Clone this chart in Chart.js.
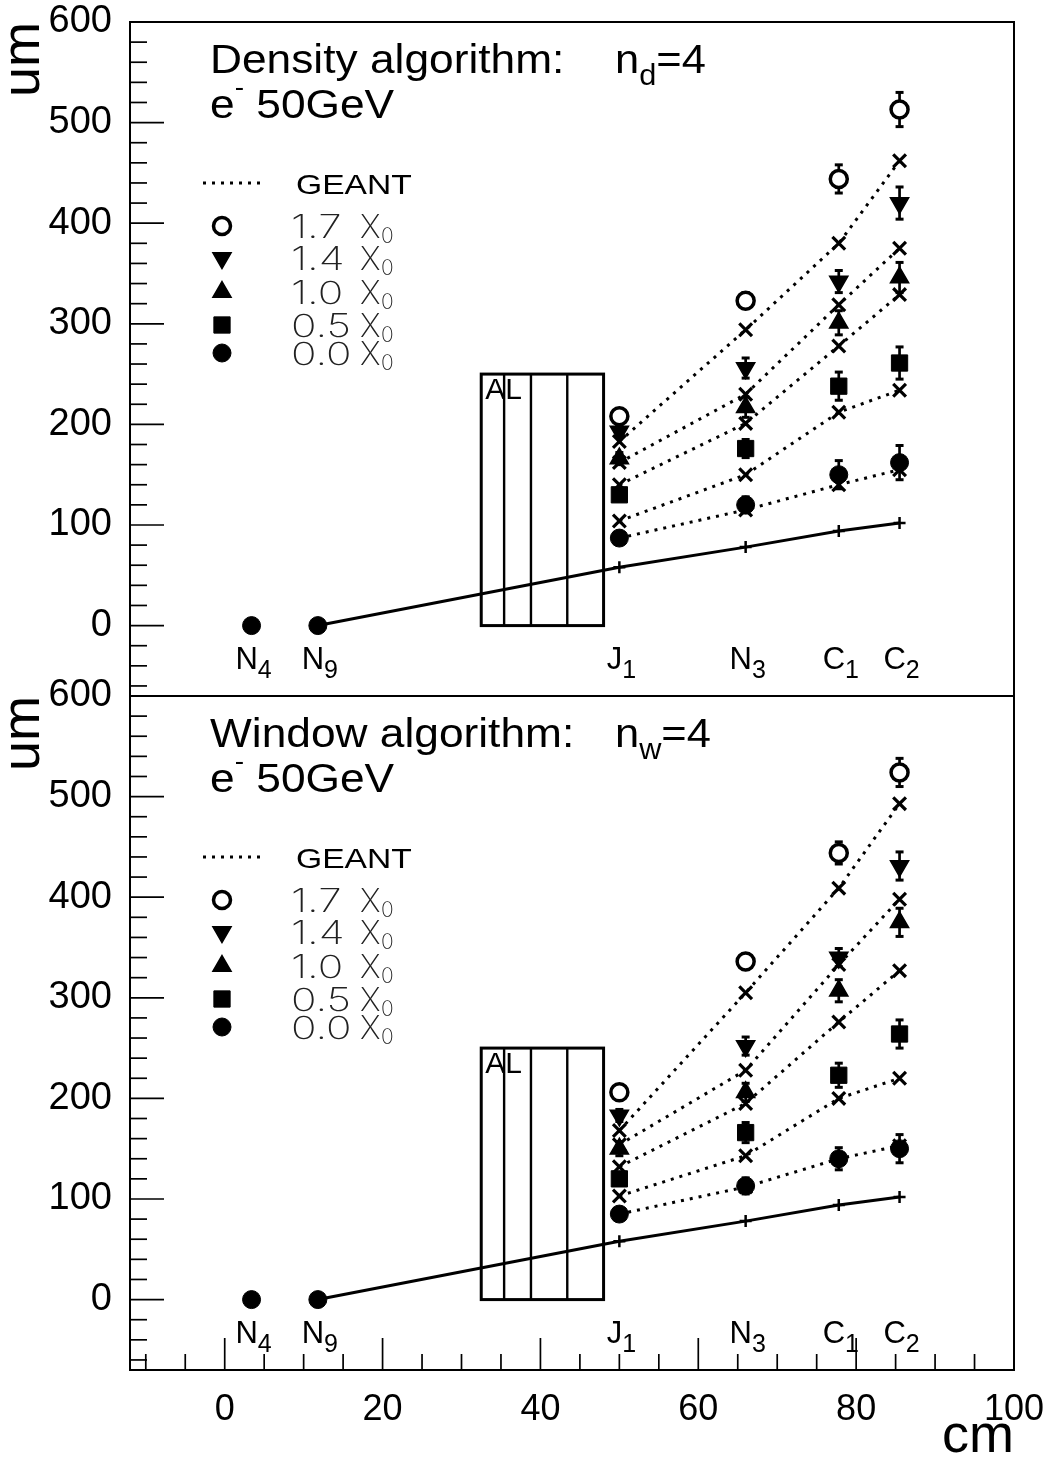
<!DOCTYPE html>
<html>
<head>
<meta charset="utf-8">
<title>Resolution vs position</title>
<script src="https://cdn.jsdelivr.net/npm/chart.js@4/dist/chart.umd.min.js"></script>
<style>
  body { margin: 0; background: #fff; overflow: hidden; }
  #wrap { width: 1051px; height: 1461px; }
</style>
</head>
<body>
<div id="wrap"><canvas id="resChart"></canvas></div>
<script>
// stations along the beam line (cm)
const stationNames = [['N', '4'], ['N', '9'], ['J', '1'], ['N', '3'], ['C', '1'], ['C', '2']];
const stationX = [3.4, 11.8, 50, 66, 77.8, 85.5];
// planes where the resolution is measured: J1, N3, C1, C2
const planeX = [50, 66, 77.8, 85.5];
const thickness = ['1.7', '1.4', '1.0', '0.5', '0.0'];

// density algorithm, n_d = 4 (um)
const dens17 = [208, 323, 444, 513];
const dens17Err = [6, 8, 14, 17];
const dens14 = [193, 256, 342, 420];
const dens14Err = [6, 10, 11, 16];
const dens10 = [166, 217, 301, 346];
const dens10Err = [6, 10, 12, 15];
const dens05 = [130, 176, 238, 261];
const dens05Err = [6, 9, 14, 16];
const dens00 = [87, 120, 150, 162];
const dens00Err = [5, 8, 14, 17];
const densGeant17 = [183, 294, 380, 462];
const densGeant14 = [162, 230, 319, 375];
const densGeant10 = [140, 201, 278, 329];
const densGeant05 = [104, 150, 212, 234];
const densGeant00 = [87, 115, 140, 155];

// window algorithm, n_w = 4 (um)
const win17 = [206, 336, 444, 524];
const win17Err = [6, 8, 11, 14];
const win14 = [183, 252, 340, 431];
const win14Err = [6, 9, 9, 14];
const win10 = [150, 206, 307, 375];
const win10Err = [7, 9, 11, 14];
const win05 = [120, 166, 223, 264];
const win05Err = [6, 10, 12, 14];
const win00 = [85, 113, 140, 150];
const win00Err = [5, 8, 11, 14];
const winGeant17 = [168, 305, 409, 493];
const winGeant14 = [154, 228, 333, 398];
const winGeant10 = [132, 195, 276, 327];
const winGeant05 = [103, 143, 200, 220];
const winGeant00 = [85, 112, 140, 153];

// extrapolation error with no material, starting at N9
const extrapX = [11.8, 50, 66, 77.8, 85.5];
const extrapRes = [0, 58, 78, 94, 102];

// reference planes N4, N9
const fixedX = [3.4, 11.8];
const fixedRes = [0, 0];

// aluminium block: layer boundaries (cm) and height (um scale)
const alLayers = [32.5, 35.4, 38.8, 43.4, 48];
const alHeight = 250;

// axis ticks
const xTickValues = [];
for (let v = -10; v <= 100; v += 5) xTickValues.push(v);
const yTickValues = [];
for (let v = -60; v <= 600; v += 20) yTickValues.push(v);

const FONT = "'Liberation Sans', Arial, Helvetica, sans-serif";
const THIN = "Inter, Lato, 'Liberation Sans', sans-serif";

const markerStyles = [
  { pointStyle: 'circle', rotation: 0, radius: 8.5, fill: '#fff', border: 3.5 },
  { pointStyle: 'triangle', rotation: 180, radius: 10.5, fill: '#000', border: 1.5 },
  { pointStyle: 'triangle', rotation: 0, radius: 10.5, fill: '#000', border: 1.5 },
  { pointStyle: 'rect', rotation: 0, radius: 11.5, fill: '#000', border: 1 },
  { pointStyle: 'circle', rotation: 0, radius: 9, fill: '#000', border: 1 }
];

const panels = [
  { id: 'yTop', title: ['Density algorithm:', 'd'],
    meas: [dens17, dens14, dens10, dens05, dens00],
    errs: [dens17Err, dens14Err, dens10Err, dens05Err, dens00Err],
    geant: [densGeant17, densGeant14, densGeant10, densGeant05, densGeant00] },
  { id: 'yBot', title: ['Window algorithm:', 'w'],
    meas: [win17, win14, win10, win05, win00],
    errs: [win17Err, win14Err, win10Err, win05Err, win00Err],
    geant: [winGeant17, winGeant14, winGeant10, winGeant05, winGeant00] }
];

function toPoints(xs, ys) {
  return xs.map((x, i) => ({ x: x, y: ys[i] }));
}

function panelSets(p) {
  const sets = [];
  p.meas.forEach((vals, i) => {
    const m = markerStyles[i];
    sets.push({
      label: thickness[i] + ' X0', yAxisID: p.id, data: toPoints(planeX, vals), errors: p.errs[i],
      showLine: false, pointStyle: m.pointStyle, pointRotation: m.rotation, pointRadius: m.radius,
      pointBackgroundColor: m.fill, pointBorderColor: '#000', pointBorderWidth: m.border, order: 0
    });
  });
  p.geant.forEach(vals => sets.push({
    label: 'GEANT', yAxisID: p.id, data: toPoints(planeX, vals), showLine: true,
    borderColor: '#000', borderWidth: 3, borderDash: [3, 6], borderCapStyle: 'butt',
    pointStyle: 'crossRot', pointRadius: 9, pointBorderColor: '#000', pointBorderWidth: 3.2, order: 1
  }));
  sets.push({
    label: 'extrapolation', yAxisID: p.id, data: toPoints(extrapX, extrapRes), showLine: true,
    borderColor: '#000', borderWidth: 3, pointStyle: 'cross',
    pointRadius: extrapX.map((x, i) => i === 0 ? 0 : 6), pointBorderColor: '#000', pointBorderWidth: 2.5, order: 2
  });
  sets.push({
    label: 'reference', yAxisID: p.id, data: toPoints(fixedX, fixedRes), showLine: false,
    pointStyle: 'circle', pointRadius: 9, pointBackgroundColor: '#000', pointBorderColor: '#000',
    pointBorderWidth: 1, order: 0
  });
  return sets;
}

// text made of pieces: {text, size, dy, family, weight}; sx stretches horizontally
function pieceWidth(ctx, parts, sx) {
  let w = 0;
  for (const p of parts) {
    ctx.font = (p.weight || 'normal') + ' ' + p.size + 'px ' + (p.family || FONT);
    w += ctx.measureText(p.text).width;
  }
  return w * sx;
}
function drawPieces(ctx, x, y, parts, sx) {
  ctx.save();
  ctx.translate(x, y);
  ctx.scale(sx, 1);
  let cx = 0;
  for (const p of parts) {
    ctx.font = (p.weight || 'normal') + ' ' + p.size + 'px ' + (p.family || FONT);
    ctx.fillStyle = p.color || '#000';
    ctx.fillText(p.text, cx, p.dy || 0);
    cx += ctx.measureText(p.text).width;
  }
  ctx.restore();
}

function line(ctx, x1, y1, x2, y2) {
  ctx.beginPath();
  ctx.moveTo(x1, y1);
  ctx.lineTo(x2, y2);
  ctx.stroke();
}

const errorBars = {
  id: 'errorBars',
  beforeDatasetsDraw(chart) {
    const ctx = chart.ctx;
    ctx.save();
    ctx.strokeStyle = '#000';
    chart.data.datasets.forEach((ds, i) => {
      if (!ds.errors) return;
      const ys = chart.scales[ds.yAxisID];
      chart.getDatasetMeta(i).data.forEach((pt, j) => {
        const v = ds.data[j].y, e = ds.errors[j];
        const hi = ys.getPixelForValue(v + e), lo = ys.getPixelForValue(v - e);
        ctx.lineWidth = 2.7;
        line(ctx, pt.x, hi, pt.x, lo);
        ctx.lineWidth = 3;
        line(ctx, pt.x - 4, hi, pt.x + 4, hi);
        line(ctx, pt.x - 4, lo, pt.x + 4, lo);
      });
    });
    ctx.restore();
  }
};

const alBlock = {
  id: 'alBlock',
  beforeDatasetsDraw(chart) {
    const ctx = chart.ctx, xs = chart.scales.x;
    ctx.save();
    ctx.strokeStyle = '#000';
    panels.forEach(p => {
      const ys = chart.scales[p.id];
      const x0 = xs.getPixelForValue(alLayers[0]);
      const x1 = xs.getPixelForValue(alLayers[alLayers.length - 1]);
      const yT = ys.getPixelForValue(alHeight), yB = ys.getPixelForValue(0);
      ctx.lineWidth = 2.4;
      alLayers.slice(1, -1).forEach(v => {
        const px = xs.getPixelForValue(v);
        line(ctx, px, yT, px, yB);
      });
      ctx.lineWidth = 3;
      ctx.strokeRect(x0, yT, x1 - x0, yB - yT);
      ctx.fillStyle = '#000';
      ctx.font = '30px ' + FONT;
      ctx.textBaseline = 'top';
      ctx.fillText('AL', x0 + 4, yT + 2);
    });
    ctx.restore();
  }
};

const decorations = {
  id: 'decorations',
  afterDraw(chart) {
    const ctx = chart.ctx, xs = chart.scales.x;
    const { left, right, top, bottom } = chart.chartArea;
    ctx.save();
    ctx.strokeStyle = '#000';
    ctx.fillStyle = '#000';

    // frame and panel divider
    ctx.lineWidth = 2;
    ctx.strokeRect(left, top, right - left, bottom - top);
    line(ctx, left, chart.scales.yTop.bottom, right, chart.scales.yTop.bottom);

    // ticks pointing into the frame
    ctx.lineWidth = 1.7;
    xTickValues.forEach(v => {
      const px = xs.getPixelForValue(v);
      line(ctx, px, bottom, px, bottom - (v % 20 === 0 ? 32 : 16));
    });
    panels.forEach(p => {
      const ys = chart.scales[p.id];
      yTickValues.forEach(v => {
        const py = ys.getPixelForValue(v);
        line(ctx, left, py, left + (v % 100 === 0 ? 34 : 17), py);
      });
    });

    ctx.textBaseline = 'alphabetic';
    panels.forEach(p => {
      const ys = chart.scales[p.id];
      const y0 = ys.getPixelForValue(0);
      const pt = ys.top;

      // station names under the zero line
      stationNames.forEach((nm, i) => {
        const parts = [{ text: nm[0], size: 31 }, { text: nm[1], size: 25, dy: 9 }];
        const w = pieceWidth(ctx, parts, 1);
        drawPieces(ctx, xs.getPixelForValue(stationX[i]) - w / 2 + 2, y0 + 43, parts, 1);
      });

      // panel title
      drawPieces(ctx, left + 80, pt + 51, [{ text: p.title[0], size: 41 }], 1.08);
      drawPieces(ctx, left + 485, pt + 51, [
        { text: 'n', size: 41 }, { text: p.title[1], size: 29, dy: 12 }, { text: '=4', size: 41 }
      ], 1.06);
      drawPieces(ctx, left + 80, pt + 96, [
        { text: 'e', size: 41 }, { text: '-', size: 26, dy: -22 }, { text: ' 50GeV', size: 41 }
      ], 1.08);

      // legend
      const lx = left + 92;
      ctx.save();
      ctx.lineWidth = 3;
      ctx.setLineDash([3, 6]);
      line(ctx, left + 73, pt + 161, left + 135, pt + 161);
      ctx.restore();
      drawPieces(ctx, left + 166, pt + 172, [{ text: 'GEANT', size: 28 }], 1.2);
      const rows = [204, 236, 270, 303, 331];
      markerStyles.forEach((m, i) => {
        ctx.fillStyle = m.fill;
        ctx.strokeStyle = '#000';
        ctx.lineWidth = m.border;
        Chart.helpers.drawPoint(ctx, { pointStyle: m.pointStyle, rotation: m.rotation, radius: m.radius, borderWidth: m.border }, lx, pt + rows[i]);
        drawPieces(ctx, left + 161, pt + rows[i] + 12, [{ text: thickness[i], size: 32, family: THIN, weight: 200, color: '#222' }], 1.32);
        drawPieces(ctx, left + 230, pt + rows[i] + 12, [{ text: 'X', size: 32, family: THIN, weight: 200, color: '#222' }], 1);
        drawPieces(ctx, left + 251, pt + rows[i] + 17, [{ text: '0', size: 21, family: THIN, weight: 200, color: '#222' }], 1);
      });
    });
    ctx.restore();
  }
};

// keep the frame where it is: drop the padding the scales ask for around overflowing labels
function noPadding(s) {
  s.paddingTop = 0;
  s.paddingBottom = 0;
  s.paddingLeft = 0;
  s.paddingRight = 0;
}

function yAxis() {
  return {
    type: 'linear', position: 'left', stack: 'panels', stackWeight: 1, min: -70, max: 600,
    grid: { display: false, drawTicks: false }, border: { display: false },
    afterBuildTicks: s => { s.ticks = yTickValues.map(v => ({ value: v })); },
    afterFit: s => { s.width = 130; noPadding(s); },
    ticks: {
      autoSkip: false, padding: 18, color: '#000', font: { family: FONT, size: 38 },
      callback: v => (v % 100 === 0 && v >= 0) ? String(v) : ''
    },
    title: { display: true, text: 'um', align: 'end', color: '#000', padding: 0,
      font: { family: FONT, size: 54, lineHeight: 0.9 } }
  };
}

const datasets = panelSets(panels[0]).concat(panelSets(panels[1]));

new Chart(document.getElementById('resChart'), {
  type: 'scatter',
  data: { datasets: datasets },
  options: {
    responsive: true,
    maintainAspectRatio: false,
    animation: false,
    events: [],
    layout: { padding: { left: 0, top: 22, right: 37, bottom: 0 } },
    plugins: { legend: { display: false }, tooltip: { enabled: false } },
    scales: {
      x: {
        type: 'linear', min: -12, max: 100,
        grid: { display: false, drawTicks: false }, border: { display: false },
        afterBuildTicks: s => { s.ticks = xTickValues.map(v => ({ value: v })); },
        afterFit: s => { s.height = 91; noPadding(s); },
        ticks: {
          autoSkip: false, maxRotation: 0, padding: 18, color: '#000', font: { family: FONT, size: 36 },
          callback: v => (v % 20 === 0 && v >= 0) ? String(v) : ''
        },
        title: { display: true, text: 'cm', align: 'end', color: '#000', padding: 0,
          font: { family: FONT, size: 54, lineHeight: 0.9 } }
      },
      yBot: yAxis(),
      yTop: yAxis()
    }
  },
  plugins: [alBlock, errorBars, decorations]
});
</script>
</body>
</html>
